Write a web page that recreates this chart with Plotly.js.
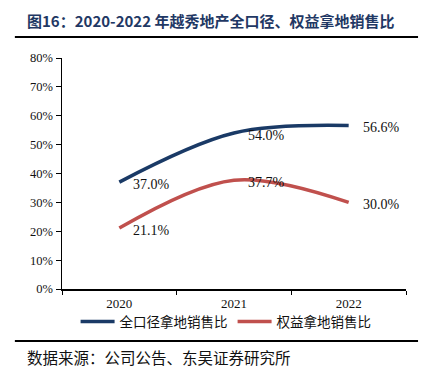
<!DOCTYPE html>
<html>
<head>
<meta charset="utf-8">
<script src="https://cdn.plot.ly/plotly-3.0.1.min.js"></script>
<style>html,body{margin:0;padding:0;background:#fff;}#chart{width:431px;height:375px;}</style>
</head>
<body>
<div id="chart"></div>
<script>
const years = ['2020', '2021', '2022'];
const fullRatio = [37.0, 54.0, 56.6];
const equityRatio = [21.1, 37.7, 30.0];
const seriesNames = ['全口径拿地销售比', '权益拿地销售比'];
const yTickVals = [0, 10, 20, 30, 40, 50, 60, 70, 80];
const titleText = '图16：2020-2022 年越秀地产全口径、权益拿地销售比';
const sourceText = '数据来源：公司公告、东吴证券研究所';

const colors = ['#1a3a66', '#c0504d'];
const serif = 'Liberation Serif';
const cjk = 'Noto Sans CJK SC';

const traces = [fullRatio, equityRatio].map((vals, i) => ({
  x: years, y: vals, type: 'scatter', mode: 'lines', name: seriesNames[i],
  line: {color: colors[i], width: 3.5, shape: 'spline', smoothing: 1},
  hoverinfo: 'skip'
}));

const annotations = [];
[fullRatio, equityRatio].forEach(vals => {
  vals.forEach((v, j) => {
    annotations.push({
      x: j, y: v, xref: 'x', yref: 'y', text: v.toFixed(1) + '%',
      showarrow: false, xanchor: 'left', yanchor: 'middle', xshift: 12, yshift: -2,
      font: {family: serif, size: 14, color: '#111'}
    });
  });
});
annotations.push({
  x: -0.108, y: 1.164, xref: 'paper', yref: 'paper', xanchor: 'left', yanchor: 'middle',
  text: '<b>' + titleText + '</b>', showarrow: false,
  font: {family: cjk, size: 15, color: '#1f3864'}
});
annotations.push({
  x: -0.108, y: -0.294, xref: 'paper', yref: 'paper', xanchor: 'left', yanchor: 'middle',
  text: sourceText, showarrow: false,
  font: {family: cjk, size: 15.5, color: '#111'}
});

const layout = {
  width: 431, height: 375,
  margin: {l: 62, r: 25, t: 58, b: 86},
  paper_bgcolor: '#fff', plot_bgcolor: '#fff',
  showlegend: true,
  legend: {
    orientation: 'h', x: 0.477, xanchor: 'center', y: -0.142, yanchor: 'middle',
    bgcolor: 'rgba(0,0,0,0)',
    font: {family: cjk, size: 13.5, color: '#111'}, itemwidth: 34, tracegroupgap: 0
  },
  xaxis: {
    type: 'category', range: [-0.5, 2.5], showline: true, linecolor: '#000', linewidth: 1.5,
    ticks: 'outside', tickson: 'boundaries', ticklen: 4, tickcolor: '#000',
    ticklabelstandoff: 2,
    showgrid: false, zeroline: false,
    tickfont: {family: serif, size: 13, color: '#111'}
  },
  yaxis: {
    range: [0, 80], tickvals: yTickVals, ticktext: yTickVals.map(v => v + '%'),
    showline: true, linecolor: '#000', linewidth: 1.5,
    ticks: 'outside', ticklen: 5, tickcolor: '#000',
    showgrid: false, zeroline: false,
    tickfont: {family: serif, size: 12.5, color: '#111'}
  },
  shapes: [
    {type: 'line', xref: 'paper', yref: 'paper', x0: -0.137, x1: 1.035, y0: 1.091, y1: 1.091,
     line: {color: '#000', width: 2}},
    {type: 'line', xref: 'paper', yref: 'paper', x0: -0.137, x1: 1.035, y0: -0.225, y1: -0.225,
     line: {color: '#000', width: 2}}
  ],
  annotations: annotations
};

Plotly.newPlot('chart', traces, layout, {displayModeBar: false, staticPlot: true});
</script>
</body>
</html>
